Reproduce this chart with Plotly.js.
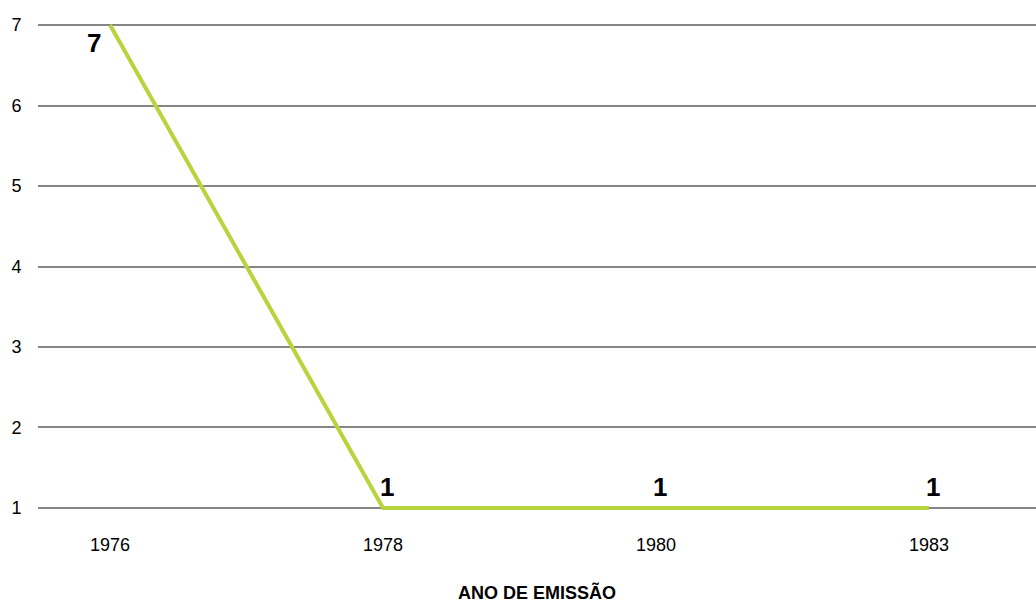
<!DOCTYPE html>
<html>
<head>
<meta charset="utf-8">
<script src="https://cdn.plot.ly/plotly-3.0.1.min.js"></script>
<style>html,body{margin:0;padding:0;background:#fff;}#chart{width:1036px;height:603px;}</style>
</head>
<body>
<div id="chart"></div>
<script>
const years = ['1976', '1978', '1980', '1983'];
const counts = [7, 1, 1, 1];

const FONT = 'Liberation Sans, Arial, Helvetica, sans-serif';

const trace = {
  x: years,
  y: counts,
  type: 'scatter',
  mode: 'lines',
  line: {color: '#b8d43c', width: 4},
  cliponaxis: false,
  hoverinfo: 'skip'
};

// value labels, positioned relative to each data point (category index on x)
const annotations = years.map((yr, i) => {
  const first = i === 0;
  return {
    x: i, y: counts[i], xref: 'x', yref: 'y',
    text: '<b>' + counts[i] + '</b>',
    showarrow: false,
    xanchor: 'center', yanchor: 'middle',
    xshift: first ? -16 : 4,
    yshift: first ? -18 : 21,
    font: {family: FONT, size: 26, color: '#000'}
  };
});

const layout = {
  width: 1036, height: 603,
  margin: {l: 38, r: 0, t: 23, b: 93},
  paper_bgcolor: '#fff', plot_bgcolor: '#fff',
  showlegend: false,
  font: {family: FONT, color: '#000', size: 18},
  annotations: annotations,
  xaxis: {
    type: 'category',
    range: [-0.264, 3.392],
    showgrid: false, zeroline: false, showline: false,
    ticks: 'outside', ticklen: 18, tickcolor: 'rgba(0,0,0,0)',
    tickfont: {size: 18},
    title: {text: '<b>ANO DE EMISSÃO</b>', font: {size: 18}, standoff: 34}
  },
  yaxis: {
    range: [0.975, 7.025],
    tickvals: [1, 2, 3, 4, 5, 6, 7],
    showgrid: true, gridcolor: '#858585', gridwidth: 2,
    zeroline: false, showline: false,
    ticks: 'outside', ticklen: 12, tickcolor: 'rgba(0,0,0,0)',
    tickfont: {size: 18}
  }
};

Plotly.newPlot('chart', [trace], layout, {displayModeBar: false, staticPlot: true});
</script>
</body>
</html>
